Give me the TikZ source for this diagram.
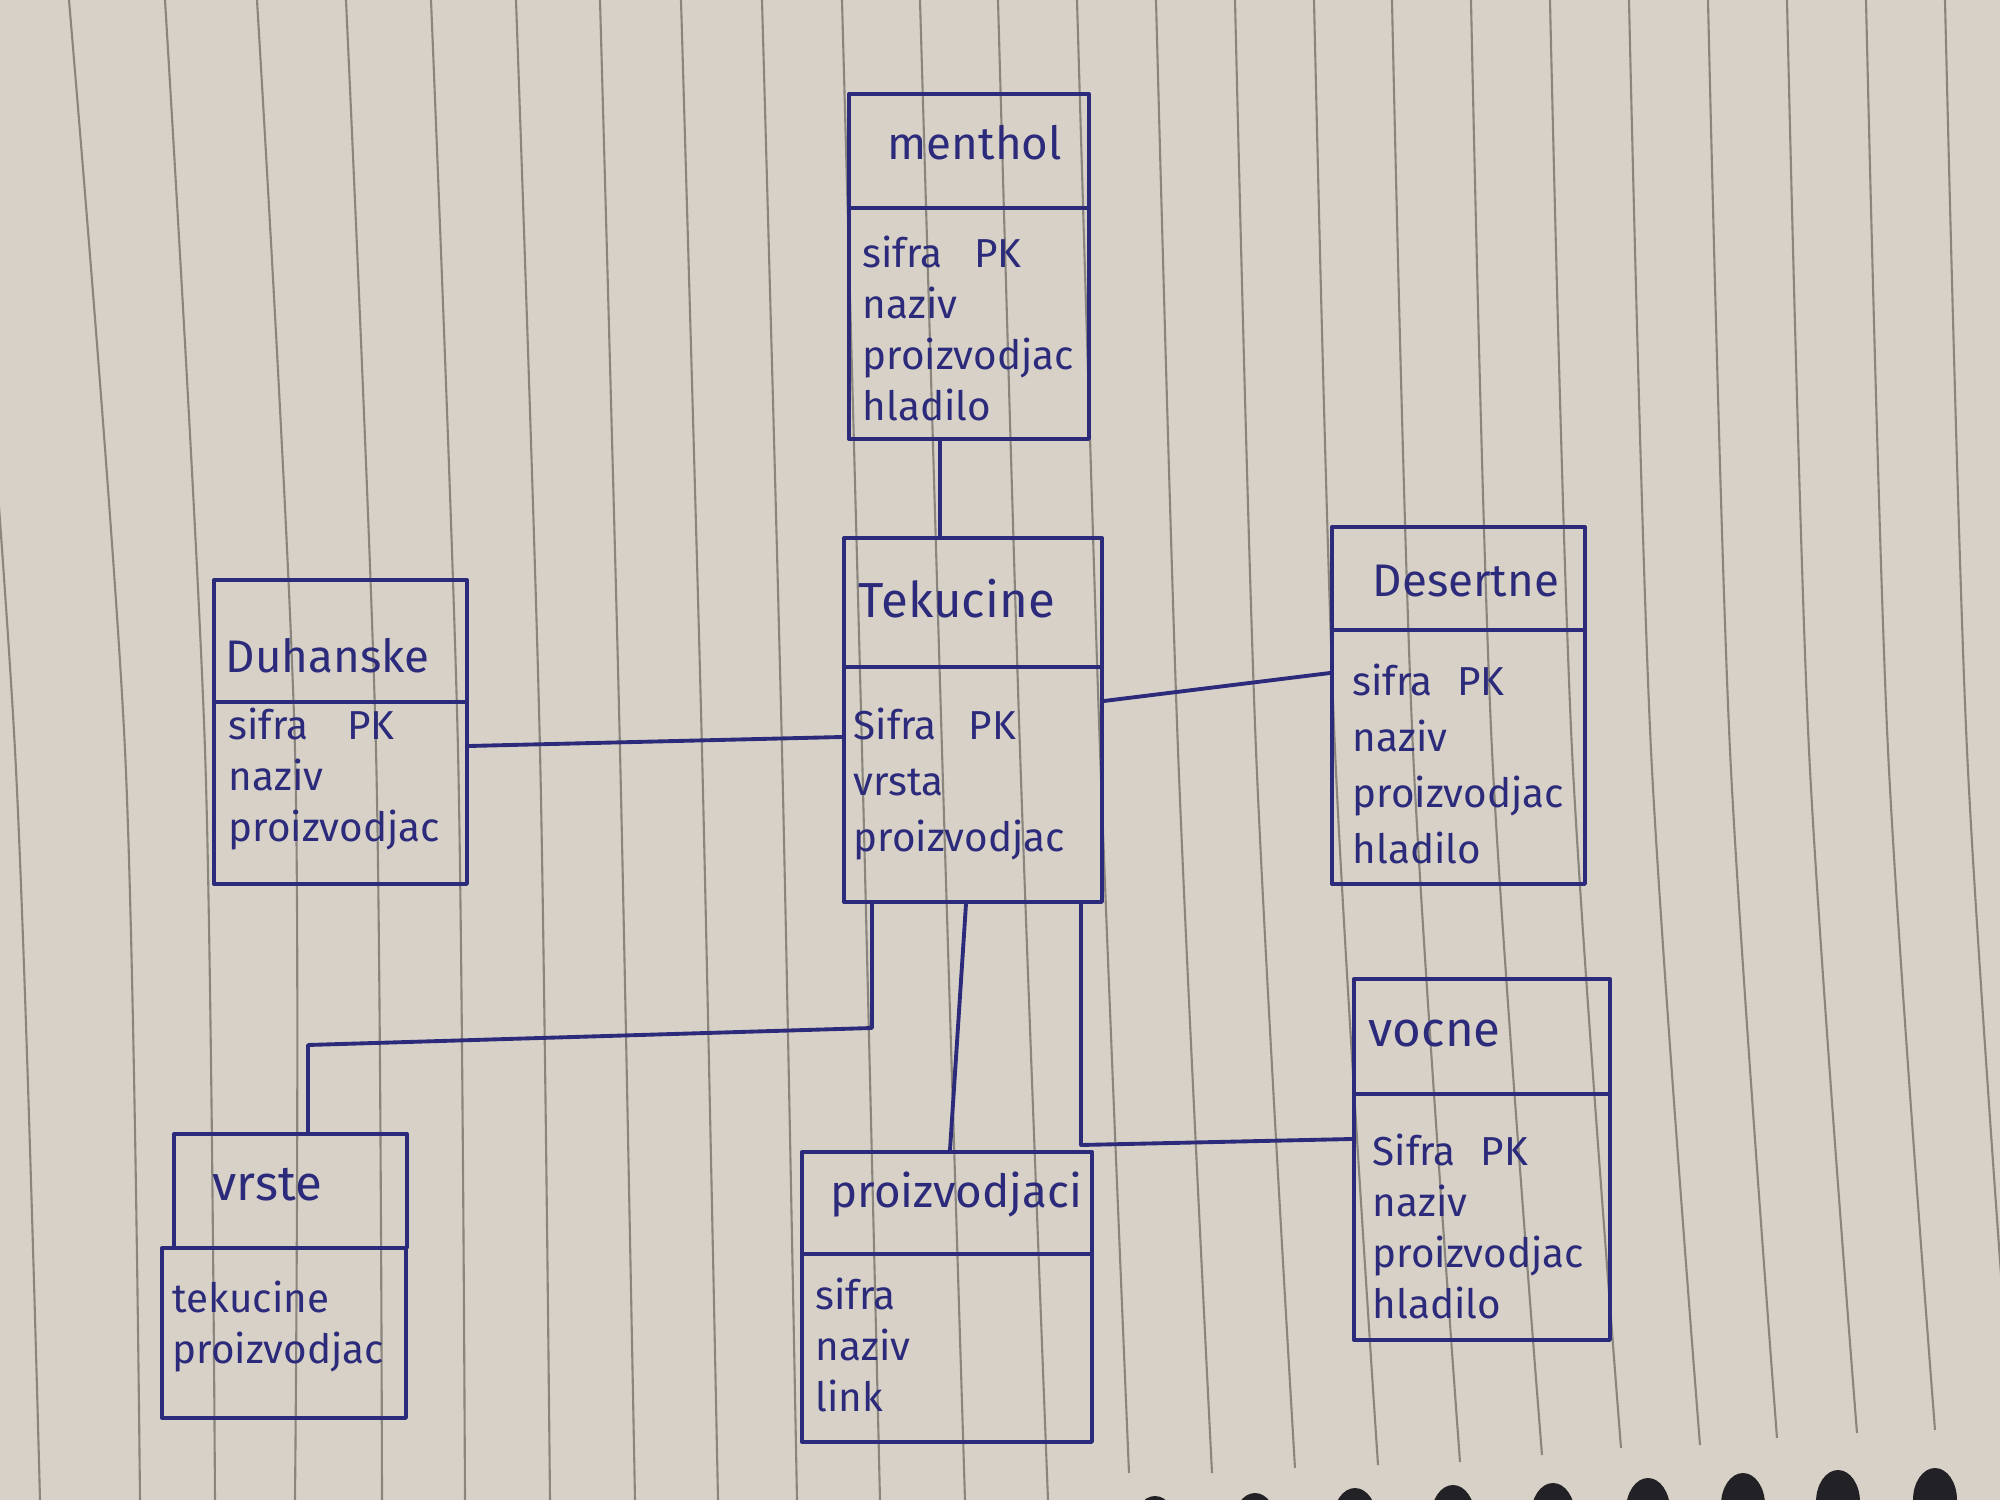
\documentclass[tikz,border=0pt]{standalone}
\usepackage{fontspec}
\setmainfont{Fira Sans}
\definecolor{inkc}{RGB}{44,42,122}
\definecolor{paper}{RGB}{215,209,200}
\definecolor{rulec}{RGB}{138,134,126}
\definecolor{holec}{RGB}{34,34,38}
\begin{document}
\begin{tikzpicture}[x=0.1mm, y=-0.1mm,
  ink/.style={draw=inkc, line width=1.1pt, line join=round, line cap=round},
  ent/.style={ink, rectangle, inner sep=0pt, anchor=north west},
  ttl/.style={text=inkc, font=\fontsize{14}{17}\selectfont, inner sep=0pt, anchor=base west},
  small ttl/.style={font=\fontsize{13}{16}\selectfont},
  attr/.style={text=inkc, font=\fontsize{11.5}{14.5}\selectfont, inner sep=0pt, anchor=north west, align=left},
  wide/.style={font=\fontsize{11.5}{16}\selectfont},
  link/.style={ink},
  rule/.style={draw=rulec, line width=0.6pt},
  hole/.style={fill=holec}]

% paper sheet
\useasboundingbox (0,0) rectangle (2000,1500);
\fill[paper] (0,0) rectangle (2000,1500);

% ruled lines of the notebook page (slightly bent by the paper)
\foreach \a/\b/\c/\e in {-40/15/40/1500, 69/125/140/1500, 165/205/215/1500,
    257/295/295/1500, 346/376/382/1500, 431/458/465/1500, 516/540/550/1500,
    600/620/635/1500, 681/702/718/1500, 762/782/797/1500, 842/862/880/1500,
    920/942/965/1500, 998/1020/1048/1500, 1077/1100/1129/1473,
    1156/1178/1212/1473, 1235/1256/1295/1468, 1314/1335/1378/1465,
    1392/1413/1460/1462, 1471/1492/1542/1455, 1550/1572/1621/1448,
    1629/1651/1700/1445, 1708/1730/1777/1438, 1787/1809/1857/1433,
    1866/1888/1935/1430, 1945/1967/2012/1425}
  \draw[rule] plot[smooth] coordinates {(\a,0) (\b,750) (\c,\e)};

% spiral binding holes
\foreach \x/\y in {1155/1528, 1255/1525, 1355/1520, 1453/1517, 1553/1515,
    1648/1510, 1743/1505, 1838/1502, 1935/1500}
  \fill[hole] (\x,\y) ellipse [x radius=2.2mm, y radius=3.2mm];

% ---- entities: header box + attribute box ----
\node[ent, minimum width=24.0mm, minimum height=11.4mm] (menH) at (847,92) {};
\node[ent, minimum width=24.0mm, minimum height=23.1mm] (menB) at (847,206) {};
\node[ttl, small ttl] (menT) at (887,160) {menthol};
\node[attr] (menA) at (862,235) {sifra\hspace{6pt} PK\\naziv\\proizvodjac\\hladilo};

\node[ent, minimum width=25.8mm, minimum height=12.9mm] (tekH) at (842,536) {};
\node[ent, minimum width=25.8mm, minimum height=23.5mm] (tekB) at (842,665) {};
\node[ttl] (tekT) at (858,617) {Tekucine};
\node[attr, wide] (tekA) at (853,707) {Sifra\hspace{6pt} PK\\vrsta\\proizvodjac};

\node[ent, minimum width=25.3mm, minimum height=12.2mm] (duhH) at (212,578) {};
\node[ent, minimum width=25.3mm, minimum height=18.2mm] (duhB) at (212,700) {};
\node[ttl, small ttl] (duhT) at (225,673) {Duhanske};
\node[attr] (duhA) at (228,707) {sifra\hspace{8pt} PK\\naziv\\proizvodjac};

\node[ent, minimum width=25.3mm, minimum height=10.3mm] (desH) at (1330,525) {};
\node[ent, minimum width=25.3mm, minimum height=25.4mm] (desB) at (1330,628) {};
\node[ttl, small ttl] (desT) at (1372,597) {Desertne};
\node[attr, wide] (desA) at (1352,663) {sifra\hspace{4pt} PK\\naziv\\proizvodjac\\hladilo};

\node[ent, minimum width=25.6mm, minimum height=11.5mm] (vocH) at (1352,977) {};
\node[ent, minimum width=25.6mm, minimum height=24.6mm] (vocB) at (1352,1092) {};
\node[ttl] (vocT) at (1368,1047) {vocne};
\node[attr] (vocA) at (1372,1133) {Sifra\hspace{4pt} PK\\naziv\\proizvodjac\\hladilo};

\node[ent, minimum width=23.3mm, minimum height=11.4mm] (vrsH) at (172,1132) {};
\node[ent, minimum width=24.4mm, minimum height=17.0mm] (vrsB) at (160,1246) {};
\node[ttl] (vrsT) at (212,1200) {vrste};
\node[attr] (vrsA) at (172,1280) {tekucine\\proizvodjac};

\node[ent, minimum width=29.0mm, minimum height=10.2mm] (proH) at (800,1150) {};
\node[ent, minimum width=29.0mm, minimum height=18.8mm] (proB) at (800,1252) {};
\node[ttl, small ttl] (proT) at (830,1207) {proizvodjaci};
\node[attr] (proA) at (815,1277) {sifra\\naziv\\link};

% ---- relationship lines ----
\coordinate (k1) at (940,0);
\draw[link] (menB.south -| k1) -- (tekH.north -| k1);

\coordinate (k2a) at (0,746);
\coordinate (k2b) at (0,737);
\draw[link] (duhB.east |- k2a) -- (tekB.west |- k2b);

\coordinate (k3a) at (0,701);
\coordinate (k3b) at (0,673);
\draw[link] (tekB.east |- k3a) -- (desB.west |- k3b);

\coordinate (b1) at (872,1028);
\coordinate (b2) at (308,1045);
\draw[link] (tekB.south -| b1) -- (b1) -- (b2) -- (vrsH.north -| b2);

\coordinate (k5a) at (966,0);
\coordinate (k5b) at (950,0);
\draw[link] (tekB.south -| k5a) -- (proH.north -| k5b);

\coordinate (b3) at (1081,1145);
\coordinate (k6) at (0,1139);
\draw[link] (tekB.south -| b3) -- (b3) -- (vocB.west |- k6);
\end{tikzpicture}
\end{document}
